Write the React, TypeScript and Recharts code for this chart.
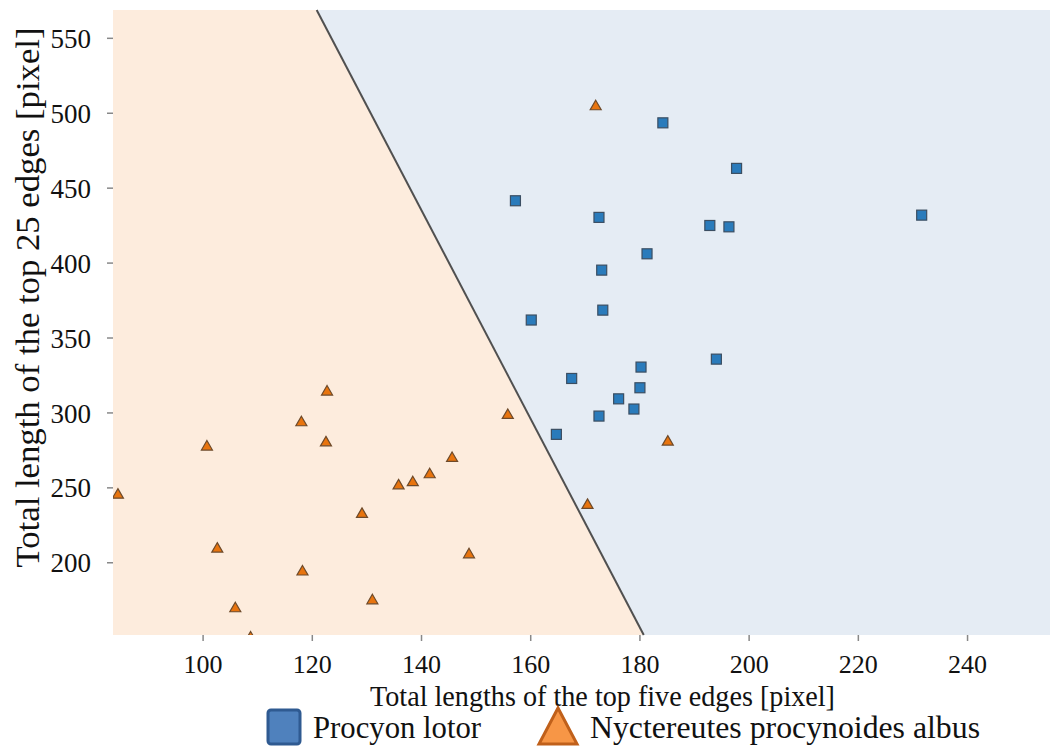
import React from 'react';
import { ComposedChart, Scatter, Area, XAxis, YAxis, CartesianGrid, ReferenceLine } from 'recharts';

// Procyon lotor (blue squares)
const procyonX = [184.2, 197.7, 157.2, 172.5, 192.8, 196.3, 231.6, 181.3, 173.0, 173.2, 160.1, 194.0, 180.2, 167.5, 180.0, 176.1, 178.9, 172.5, 164.7];
const procyonY = [493.6, 463.2, 441.6, 430.5, 425.1, 424.2, 432.0, 406.2, 395.3, 368.6, 362.0, 335.9, 330.6, 323.0, 316.8, 309.4, 302.6, 297.9, 285.7];

// Nyctereutes procyonoides albus (orange triangles)
const nyctX = [122.7, 118.0, 122.5, 100.7, 145.6, 141.5, 138.4, 135.8, 84.4, 129.1, 102.6, 148.7, 118.2, 131.0, 105.9, 108.7, 155.8, 185.1, 170.4, 171.9];
const nyctY = [314.6, 294.1, 280.7, 277.9, 270.3, 259.4, 254.1, 252.0, 245.8, 233.0, 209.8, 206.0, 194.5, 175.3, 170.0, 150.5, 299.0, 281.2, 239.0, 505.0];

const xTicks = [100, 120, 140, 160, 180, 200, 220, 240];
const yTicks = [200, 250, 300, 350, 400, 450, 500, 550];
const xDomain = [83.5, 255.1];
const yDomain = [151.8, 568.9];

// decision boundary endpoints
const boundaryX = [120.8, 180.7];
const boundaryY = [568.9, 151.8];

const seriesNames = ['Procyon lotor', 'Nyctereutes procynoides albus'];

const procyonData = procyonX.map((x, i) => ({ x, y: procyonY[i] }));
const nyctData = nyctX.map((x, i) => ({ x, y: nyctY[i] }));
const regionData = [
  { x: xDomain[0], region: yDomain[1] },
  { x: boundaryX[0], region: boundaryY[0] },
  { x: boundaryX[1], region: boundaryY[1] },
];

const FONT = '"Liberation Serif", "Times New Roman", serif';

const SquareShape = (props: any) => {
  const { cx, cy } = props;
  if (cx == null || cy == null) return null;
  return <rect x={cx - 5} y={cy - 5} width={10} height={10} fill="#2a7bbb" stroke="#3b4e62" strokeWidth={1.2} />;
};

const TriangleShape = (props: any) => {
  const { cx, cy } = props;
  if (cx == null || cy == null) return null;
  return (
    <polygon
      points={`${cx},${cy - 5.5} ${cx + 5.5},${cy + 4} ${cx - 5.5},${cy + 4}`}
      fill="#e8740e"
      stroke="#6e4a2a"
      strokeWidth={1.2}
    />
  );
};

const YLabel = (props: any) => {
  const vb = props.viewBox || {};
  const x = 27;
  const y = vb.y + vb.height / 2 - 25;
  return (
    <text x={x} y={y} transform={`rotate(-90, ${x}, ${y})`} textAnchor="middle" dominantBaseline="central"
      fontFamily={FONT} fontSize={34} fill="#111" textLength={540} lengthAdjust="spacingAndGlyphs">
      Total length of the top 25 edges [pixel]
    </text>
  );
};

const XLabel = (props: any) => {
  const vb = props.viewBox || {};
  const x = vb.x + vb.width / 2 + 21;
  return (
    <text x={x} y={706} textAnchor="middle" fontFamily={FONT} fontSize={30} fill="#111"
      textLength={465} lengthAdjust="spacingAndGlyphs">
      Total lengths of the top five edges [pixel]
    </text>
  );
};

export default function App() {
  return (
    <div style={{ position: 'absolute', left: 0, top: 0, width: 1051, height: 749, background: '#fff' }}>
      <ComposedChart
        width={1051}
        height={749}
        data={regionData}
        margin={{ top: 10, right: 1, bottom: 0, left: 0 }}
      >
        <CartesianGrid horizontal={false} vertical={false} fill="#e5ecf4" stroke="none" />
        <XAxis
          type="number"
          dataKey="x"
          domain={xDomain}
          ticks={xTicks}
          allowDataOverflow
          height={114}
          axisLine={false}
          tickSize={6}
          tickLine={{ stroke: '#888', strokeWidth: 1.5 }}
          tickMargin={14}
          tick={{ fontFamily: FONT, fontSize: 26, fill: '#111' }}
          label={<XLabel />}
        />
        <YAxis
          type="number"
          domain={yDomain}
          ticks={yTicks}
          allowDataOverflow
          width={113}
          axisLine={false}
          tickSize={6}
          tickLine={{ stroke: '#888', strokeWidth: 1.5 }}
          tickMargin={16}
          tick={{ fontFamily: FONT, fontSize: 27, fill: '#111' }}
          label={<YLabel />}
        />
        <Area
          type="linear"
          dataKey="region"
          baseValue={yDomain[0]}
          fill="#fdecdd"
          fillOpacity={1}
          stroke="none"
          isAnimationActive={false}
          dot={false}
          activeDot={false}
        />
        <ReferenceLine
          segment={[{ x: boundaryX[0], y: boundaryY[0] }, { x: boundaryX[1], y: boundaryY[1] }]}
          stroke="#505050"
          strokeWidth={2}
          ifOverflow="visible"
        />
        <Scatter name={seriesNames[0]} data={procyonData} dataKey="y" shape={<SquareShape />} isAnimationActive={false} />
        <Scatter name={seriesNames[1]} data={nyctData} dataKey="y" shape={<TriangleShape />} isAnimationActive={false} />
      </ComposedChart>
      <svg width={1051} height={749} style={{ position: 'absolute', left: 0, top: 0, pointerEvents: 'none' }}>
        <rect x={268} y={710} width={32} height={34} rx={3} fill="#4f81bd" stroke="#2f5a91" strokeWidth={3} />
        <text x={313} y={738} fontFamily={FONT} fontSize={32} fill="#111" textLength={168} lengthAdjust="spacingAndGlyphs">
          {seriesNames[0]}
        </text>
        <polygon points="558,708 577,744 539,744" fill="#f79646" stroke="#c0601a" strokeWidth={3} strokeLinejoin="miter" />
        <text x={590} y={738} fontFamily={FONT} fontSize={32} fill="#111" textLength={390} lengthAdjust="spacingAndGlyphs">
          {seriesNames[1]}
        </text>
      </svg>
    </div>
  );
}
